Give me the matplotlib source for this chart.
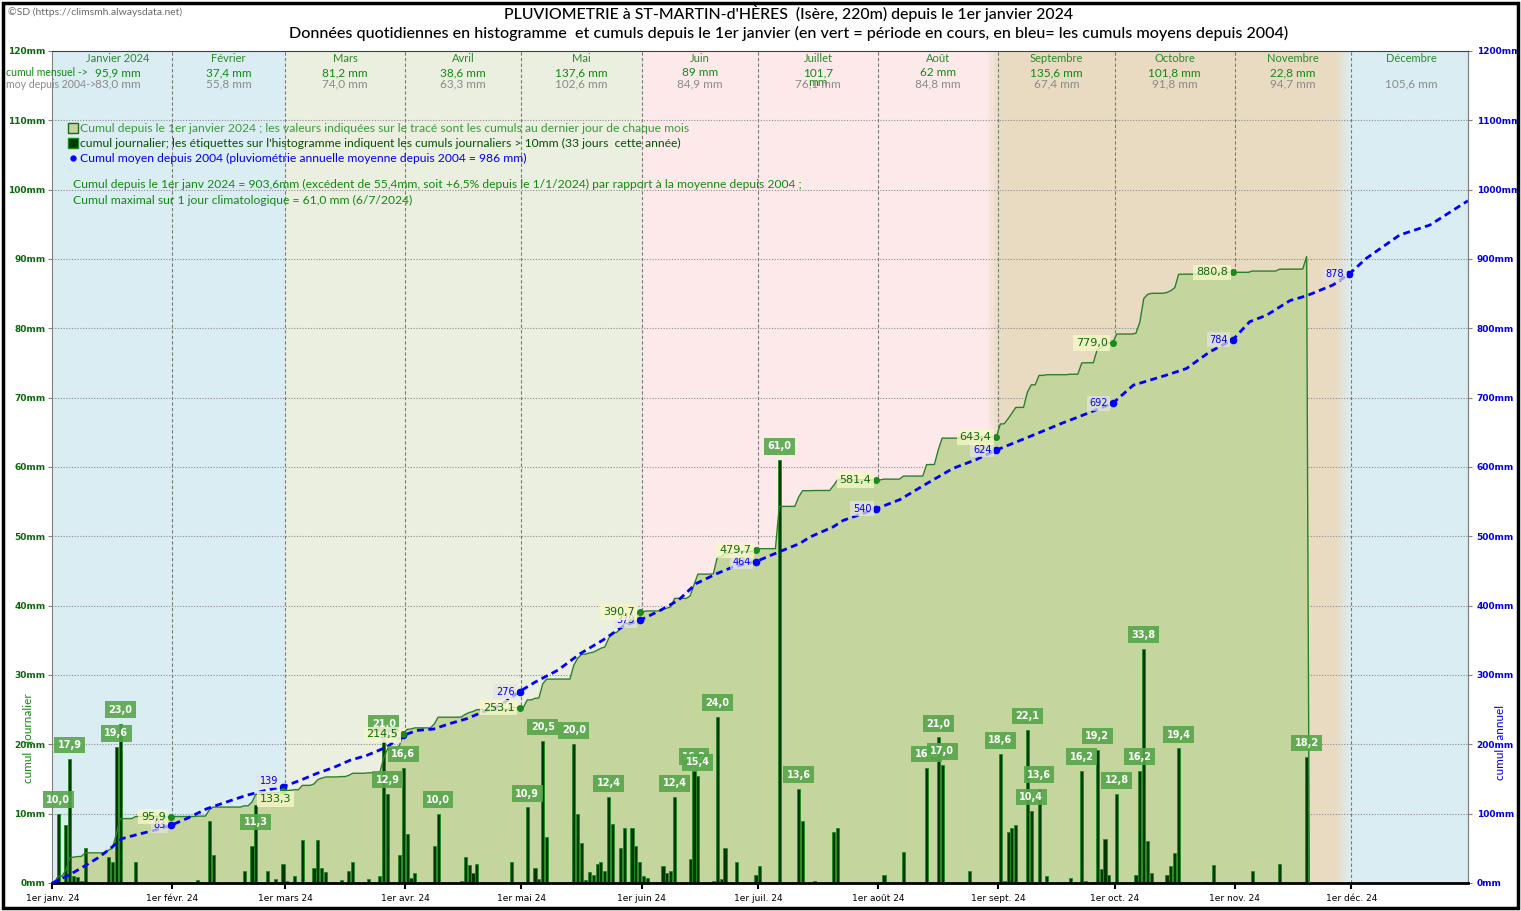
import matplotlib.pyplot as plt
import numpy as np
from matplotlib.patches import Rectangle
from matplotlib.lines import Line2D
from matplotlib.colors import to_rgb

plt.rcParams['font.family'] = ['Lato', 'DejaVu Sans']

# pluie journaliere 2024 : jour de l'annee (0 = 1er janvier) et hauteur en mm
rain_day = [1, 3, 4, 5, 6, 7, 8, 14, 15, 16, 17, 21,
            37, 38, 40, 41, 49, 51, 52, 53, 55, 57, 59,
            60, 62, 64, 67, 68, 69, 70, 72, 74, 76, 77, 81, 84, 85, 86, 89, 90,
            91, 92, 93, 98, 99, 105, 106, 107, 108, 109, 111, 118,
            121, 122, 124, 125, 126, 127, 133, 134, 135, 136, 137, 138, 139, 140, 141, 142, 143, 144, 146, 147, 149, 150, 151,
            152, 153, 157, 158, 159, 160, 164, 165, 166, 170, 171, 172, 173, 176, 181,
            182, 187, 192, 193, 196, 201, 202,
            214, 219, 225, 226, 228, 229, 236,
            244, 245, 246, 247, 248, 250, 251, 252, 254, 256, 262, 265, 266, 268, 269, 270, 271, 272,
            274, 279, 280, 281, 282, 283, 286, 287, 288, 289, 290, 291, 297, 299,
            309, 316, 322, 323]
rain_mm = [10.0, 8.4, 17.9, 1.0, 0.8, 0.3, 5.1, 3.7, 3.1, 19.6, 23.0, 3.0,
           0.5, 0.1, 9.0, 4.0, 1.8, 5.4, 11.3, 0.2, 1.7, 0.6, 2.8,
           0.3, 1.0, 6.2, 2.1, 6.2, 2.2, 1.6, 0.1, 0.5, 1.8, 3.0, 0.6, 1.0, 21.0, 12.9, 4.1, 16.6,
           7.0, 0.7, 1.5, 5.4, 10.0, 0.3, 3.8, 2.6, 1.5, 2.7, 0.1, 3.0,
           0.1, 10.9, 2.2, 0.6, 20.5, 6.6, 0.1, 20.0, 9.9, 5.7, 0.4, 1.6, 1.2, 2.7, 3.0, 1.8, 12.4, 8.5, 5.1, 8.0, 8.0, 5.3, 3.0,
           1.0, 0.7, 2.5, 1.5, 1.7, 12.4, 3.4, 16.2, 15.4, 0.3, 24.0, 0.6, 5.1, 3.0, 1.2,
           2.5, 61.0, 13.6, 9.0, 0.3, 7.3, 8.0,
           1.1, 4.4, 16.6, 0.1, 21.0, 17.0, 1.8,
           18.6, 0.3, 7.3, 8.0, 8.3, 0.1, 22.1, 10.4, 13.6, 1.0, 0.7, 16.2, 0.3, 0.1, 19.2, 2.0, 6.3, 1.1,
           12.8, 1.2, 16.2, 33.8, 6.0, 1.5, 0.1, 1.2, 2.5, 4.3, 19.4, 0.1, 0.1, 2.6,
           1.8, 2.7, 0.1, 18.2]
last_day = 323  # 19 novembre

blue_day = [0, 4.5, 8.5, 12, 15, 18, 22, 27, 30.5,
            34.7, 39.8, 45, 50.1, 55.3, 59.5,
            63.9, 68.2, 72.5, 76.8, 81.1, 86.2, 88.8, 90.5,
            94, 98.3, 102.6, 106.9, 111.2, 115.5, 120.5,
            124.6, 130.4, 136.2, 141.9, 147.7, 151.5,
            156.9, 161.5, 166.1, 171.3, 175.6, 181.5,
            187.6, 192.8, 195.4, 201.4, 204, 212.5,
            218.6, 225.5, 232.3, 238.4, 243.5,
            253, 259.9, 265.9, 273.5,
            278.8, 287.4, 292.5, 298.5, 304.5,
            308.8, 313.2, 319.2, 323.5, 330.3, 334.5,
            338.9, 347.5, 355.3, 365.1]
blue_mm = [0, 12, 25, 37, 50, 64, 70, 77, 83.0,
           93, 107, 117, 126.5, 134, 138.8,
           148, 158, 166.5, 177, 184, 196, 206, 212.8,
           220, 222, 230, 237, 247, 256, 276.1,
           290, 307, 331, 350, 372, 378.7,
           393.5, 408, 432, 446, 456, 463.6,
           478, 489.7, 499, 513.7, 523, 539.7,
           553, 576, 598, 611, 624.5,
           646, 662, 675, 691.9,
           718, 732.6, 742, 766, 783.7,
           809.5, 819, 840, 847, 862.5, 878.4,
           901, 934.6, 949, 984.0]

month_start = [0, 31, 60, 91, 121, 152, 182, 213, 244, 274, 305, 335, 366]
month_names = ["Janvier 2024", "Février", "Mars", "Avril", "Mai", "Juin", "Juillet",
               "Août", "Septembre", "Octobre", "Novembre", "Décembre"]
month_total = ["95,9 mm", "37,4 mm", "81,2 mm", "38,6 mm", "137,6 mm", "89 mm", "101,7\nmm",
               "62 mm", "135,6 mm", "101,8 mm", "22,8 mm", ""]
month_mean = [83.0, 55.8, 74.0, 63.3, 102.6, 84.9, 76.1, 84.8, 67.4, 91.8, 94.7, 105.6]
xtick_labels = ["1er janv. 24", "1er févr. 24", "1er mars 24", "1er avr. 24", "1er mai 24",
                "1er juin 24", "1er juil. 24", "1er août 24", "1er sept. 24", "1er oct. 24",
                "1er nov. 24", "1er déc. 24"]

W, H = 1521, 911
def fx(p): return p / W
def fy(p): return 1 - p / H

# couleurs
c_blue_bg = '#daedf3'
c_spring = '#ebefdf'
c_summer = '#fde9ea'
c_autumn = '#e8dbc2'
c_fill = '#c4d69e'
c_dkgreen = '#0b6b0b'
c_green = '#1a8a1a'

fig = plt.figure(figsize=(W / 100, H / 100), dpi=100)
ax = fig.add_axes([fx(52.3), fy(883), (1468.3 - 52.3) / W, (883 - 51) / H])
ax.set_xlim(0, 365.2)
ax.set_ylim(0, 120)

# fonds par saison
seasons = [(0, 60, c_blue_bg), (60, 152, c_spring), (152, 241, c_summer),
           (244, 331, c_autumn), (335, 366, c_blue_bg)]
for a, b, c in seasons:
    ax.axvspan(a, b, color=c, lw=0, zorder=0)
for a, b, c1, c2 in [(241, 244, c_summer, c_autumn), (331, 335, c_autumn, c_blue_bg)]:
    n = 8
    edges = np.linspace(a, b, n + 1)
    for i in range(n):
        t = (i + 0.5) / n
        col = tuple((1 - t) * np.array(to_rgb(c1)) + t * np.array(to_rgb(c2)))
        ax.axvspan(edges[i], edges[i + 1], color=col, lw=0, zorder=0)

# grilles
for v in range(10, 120, 10):
    ax.axhline(v, color='#8c8c8c', ls=(0, (1, 1.5)), lw=0.8, zorder=0.5)
for d in month_start[1:12]:
    ax.axvline(d, color='#7a7a7a', ls=(0, (3, 2)), lw=0.8, zorder=0.6)

# cumul depuis le 1er janvier
daily = np.zeros(last_day + 1)
daily[rain_day] = rain_mm
cum = np.cumsum(daily)
xs = np.concatenate([[0], np.arange(last_day + 1) + 0.5, [last_day + 1.2]])
ys = np.concatenate([[0], cum, [0]]) / 10
ax.fill_between(xs, ys, color=c_fill, lw=0, zorder=1)
ax.plot(xs, ys, color='#2a7f2a', lw=1, zorder=3)

# histogramme journalier
ax.bar(np.array(rain_day) + 0.5, rain_mm, width=0.8, color='#003a00',
       edgecolor='#1f8f1f', linewidth=0.6, zorder=2)

# cumul moyen
ax.plot(blue_day, np.array(blue_mm) / 10, color='#0000ff', lw=2,
        ls=(0, (2.5, 1.6)), zorder=4)

# points fin de mois
mean_cum = np.cumsum(month_mean)
blue_off = {1: (0.0, 0.9)}
for m in range(11):
    xe = month_start[m + 1] - 0.5
    yv = mean_cum[m] / 10
    ax.plot(xe, yv, 'o', color='#0000ff', ms=4.5, zorder=5)
    dx, dy = blue_off.get(m, (0.0, 0.0))
    ax.text(xe - 1.3 + dx, yv + dy, str(int(round(mean_cum[m]))), ha='right', va='center',
            fontsize=7, color='#0000ee', family='DejaVu Sans', zorder=6,
            bbox=dict(boxstyle='square,pad=0.25', fc='#e4e4e4', ec='none', alpha=0.7))

green_off = {1: (3.5, -1.2)}
for m in range(10):
    de = month_start[m + 1] - 1
    xe = de + 0.5
    yv = cum[de] / 10
    ax.plot(xe, yv, 'o', color=c_green, ms=4, zorder=5)
    dx, dy = green_off.get(m, (0.0, 0.0))
    ax.text(xe - 1.3 + dx, yv + dy, f"{cum[de]:.1f}".replace('.', ','), ha='right', va='center',
            fontsize=8, color=c_dkgreen, family='DejaVu Sans', zorder=8,
            bbox=dict(boxstyle='square,pad=0.25', fc='#f7f7c8', ec='none', alpha=0.8))

# etiquettes des cumuls journaliers > 10 mm
lab_off = {52: -2.5}
for d, v in zip(rain_day, rain_mm):
    if v >= 10:
        ax.text(d + 0.5, v + lab_off.get(d, 2.0), f"{v:.1f}".replace('.', ','),
                ha='center', va='center', fontsize=7, color='white', fontweight='bold',
                family='DejaVu Sans', zorder=7,
                bbox=dict(boxstyle='square,pad=0.35', fc='#56a64a', ec='none', alpha=0.9))

# en-tete des mois
for m in range(12):
    mid = (month_start[m] + month_start[m + 1]) / 2
    if m == 0:
        mid = 17
    ax.text(mid, 118.9, month_names[m], ha='center', va='center', fontsize=8,
            color='#2b8a2b', zorder=6)
    if month_total[m]:
        wrapped = '\n' in month_total[m]
        ax.text(mid, 117.7 if wrapped else 116.9, month_total[m], ha='center',
                va='top' if wrapped else 'center', fontsize=8.5, color='#108a10',
                zorder=6, linespacing=0.9)
    ax.text(mid, 115.3, f"{month_mean[m]:.1f} mm".replace('.', ','), ha='center', va='center',
            fontsize=8.5, color='#8a8a8a', zorder=6)

fig.text(fx(6), fy(72), "cumul mensuel ->", fontsize=7.6, color='#108a10', va='center')
fig.text(fx(6), fy(85), "moy depuis 2004->", fontsize=7.6, color='#8a8a8a', va='center')

# legende
fig.add_artist(Line2D([fx(72.5)], [fy(128)], marker='s', ms=6.5, mfc=c_fill, mec='#1a6a1a',
                      mew=1, transform=fig.transFigure))
fig.add_artist(Line2D([fx(72.5)], [fy(143)], marker='s', ms=6.5, mfc='#003a00', mec='#1a8a1a',
                      mew=1, transform=fig.transFigure))
fig.add_artist(Line2D([fx(72.5)], [fy(158)], marker='o', ms=3.5, color='#0000ff',
                      transform=fig.transFigure))
fig.text(fx(80), fy(128), "Cumul depuis le 1er janvier 2024 ; les valeurs indiquées sur le tracé sont les cumuls au dernier jour de chaque mois",
         fontsize=8.7, color='#3a9a3a', va='center')
fig.text(fx(80), fy(143), "cumul journalier; les étiquettes sur l'histogramme indiquent les cumuls journaliers > 10mm (33 jours  cette année)",
         fontsize=8.7, color='#0a4f0a', va='center')
fig.text(fx(80), fy(158), "Cumul moyen depuis 2004 (pluviométrie annuelle moyenne depuis 2004 = 986 mm)",
         fontsize=8.7, color='#0000ee', va='center')
fig.text(fx(73), fy(184), "Cumul depuis le 1er janv 2024 = 903,6mm (excédent de 55,4mm, soit +6,5% depuis le 1/1/2024) par rapport à la moyenne depuis 2004 ;",
         fontsize=8.7, color='#108a10', va='center')
fig.text(fx(73), fy(200), "Cumul maximal sur 1 jour climatologique = 61,0 mm (6/7/2024)",
         fontsize=8.7, color='#108a10', va='center')

# titres
fig.text(fx(789), fy(13), "PLUVIOMETRIE à ST-MARTIN-d'HÈRES  (Isère, 220m) depuis le 1er janvier 2024",
         ha='center', va='center', fontsize=11.4, color='black', fontweight='medium')
fig.text(fx(789), fy(33), "Données quotidiennes en histogramme  et cumuls depuis le 1er janvier (en vert = période en cours, en bleu= les cumuls moyens depuis 2004)",
         ha='center', va='center', fontsize=11.6, color='black', fontweight='medium')
fig.text(fx(8), fy(12), "©SD (https://climsmh.alwaysdata.net)", fontsize=7.5, color='#6a6a6a', va='center')

# axes
ax.set_xticks(month_start[:12])
ax.set_xticklabels(xtick_labels, fontsize=6.5, family='DejaVu Sans')
ax.tick_params(axis='x', direction='out', length=4, width=1.5, colors='black', pad=4)
ax.set_yticks(range(0, 121, 10))
ax.set_yticklabels([f"{v}mm" for v in range(0, 121, 10)], fontsize=6.5, fontweight='bold',
                   color='#0a6a0a', family='DejaVu Sans')
ax.tick_params(axis='y', direction='out', length=3, color='#808080', pad=2)

sec = ax.secondary_yaxis('right', functions=(lambda v: v * 10, lambda v: v / 10))
sec.set_yticks(range(0, 1201, 100))
sec.set_yticklabels([f"{v}mm" for v in range(0, 1201, 100)], fontsize=6.5, fontweight='bold',
                    color='#0000dd', family='DejaVu Sans')
sec.tick_params(axis='y', direction='out', length=3, color='#808080', pad=3)
sec.spines['right'].set_color('#808080')

ax.spines['left'].set_color('#808080')
ax.spines['right'].set_color('#808080')
ax.spines['top'].set_color('#404040')
ax.spines['bottom'].set_linewidth(2)
ax.spines['bottom'].set_color('black')

fig.text(fx(28), fy(738), "cumul   journalier", rotation=90, ha='center', va='center',
         fontsize=8.5, color='#108a10')
fig.text(fx(1500), fy(742), "cumul   annuel", rotation=90, ha='center', va='center',
         fontsize=8.5, color='#0000ee')

fig.add_artist(Rectangle((fx(3), fy(908)), fx(1515), 905 / H, transform=fig.transFigure,
                         fill=False, ec='black', lw=2.5))

fig.savefig('out.png', dpi=100)
